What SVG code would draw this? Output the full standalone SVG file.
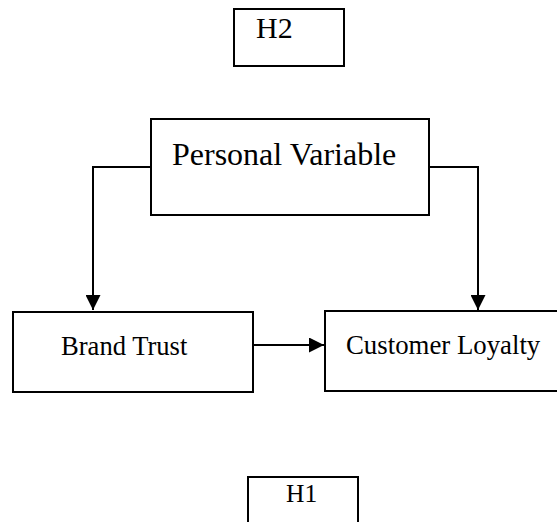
<svg xmlns="http://www.w3.org/2000/svg" width="557" height="522" viewBox="0 0 557 522">
  <style>
    .box { fill: #ffffff; stroke: #000000; stroke-width: 2; }
    .wire { fill: none; stroke: #000000; stroke-width: 2; }
  </style>
  <defs>
    <marker id="head" viewBox="0 0 15 15" refX="15" refY="7.5" markerWidth="15" markerHeight="15" markerUnits="userSpaceOnUse" orient="auto">
      <path d="M0,0 L15,7.5 L0,15 Z" fill="#000000"/>
    </marker>
  </defs>

  <rect width="557" height="522" fill="#ffffff"/>

  <g id="connectors">
    <path class="wire" d="M151,167 H93 V310" marker-end="url(#head)"/>
    <path class="wire" d="M429,167 H478 V310" marker-end="url(#head)"/>
    <path class="wire" d="M253,345 H324" marker-end="url(#head)"/>
  </g>

  <g font-family="Liberation Serif, DejaVu Serif, serif" fill="#000000">
    <g id="h2">
      <rect class="box" x="234" y="9" width="110" height="57"/>
      <text x="256" y="38" font-size="30">H2</text>
    </g>

    <g id="personal-variable">
      <rect class="box" x="151" y="119" width="278" height="96"/>
      <text x="172" y="165" font-size="32">Personal Variable</text>
    </g>

    <g id="brand-trust">
      <rect class="box" x="13" y="312" width="240" height="80"/>
      <text x="61" y="355" font-size="26.6">Brand Trust</text>
    </g>

    <g id="customer-loyalty">
      <rect class="box" x="325" y="311" width="240" height="80"/>
      <text x="346" y="354" font-size="26.8">Customer Loyalty</text>
    </g>

    <g id="h1">
      <rect class="box" x="248" y="477" width="110" height="60" stroke-width="2.5"/>
      <text x="286" y="502" font-size="25.5">H1</text>
    </g>
  </g>
</svg>
